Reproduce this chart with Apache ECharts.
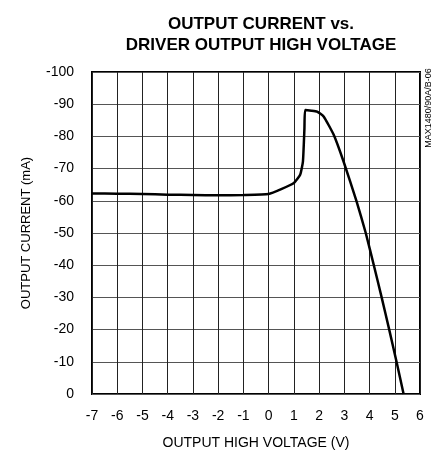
<!DOCTYPE html>
<html>
<head>
<meta charset="utf-8">
<script src="https://cdn.jsdelivr.net/npm/echarts@6/dist/echarts.min.js"></script>
<style>
  html, body { margin: 0; padding: 0; background: #fff; }
  #chart { width: 441px; height: 455px; }
</style>
</head>
<body>
<div id="chart"></div>
<script>
// output high voltage (V) vs output current (mA)
const voltage = [-7, -6, -5, -4, -3, -2, -1, 0, 0.5, 1, 1.25, 1.36, 1.42, 1.45, 1.7, 1.92, 2.18, 2.58, 2.97, 3.48, 3.85, 4.17, 4.48, 4.78, 5.07, 5.35]
const current = [-62.3, -62.2, -62.1, -61.9, -61.8, -61.7, -61.8, -62.1, -63.6, -65.5, -68.1, -72.2, -82.5, -88.2, -88, -87.7, -86.2, -80.5, -72.2, -60, -50, -40, -30, -20, -10, 0]
const xTicks = [-7, 6, 1]
const yTicks = [-100, 0, 10]

const font = '"Liberation Sans Narrow", "Arial Narrow", "Liberation Sans", sans-serif'

const chart = echarts.init(document.getElementById('chart'))
chart.setOption({
  animation: false,
  title: {
    text: 'OUTPUT CURRENT vs.\nDRIVER OUTPUT HIGH VOLTAGE',
    left: 256,
    top: 9,
    textAlign: 'center',
    textStyle: {
      fontFamily: font,
      fontSize: 17,
      fontWeight: 'bold',
      color: '#000',
      lineHeight: 21
    }
  },
  grid: {
    left: 92,
    right: 21,
    top: 72,
    bottom: 60,
    show: true,
    borderColor: '#000',
    borderWidth: 2,
    containLabel: false
  },
  graphic: [{
    type: 'text',
    x: 429,
    y: 108,
    rotation: Math.PI / 2,
    style: {
      text: 'MAX1480/90A/B-06',
      fontFamily: font,
      fontSize: 9,
      fill: '#000',
      align: 'center',
      verticalAlign: 'middle'
    }
  }],
  xAxis: {
    type: 'value',
    min: xTicks[0],
    max: xTicks[1],
    interval: xTicks[2],
    name: 'OUTPUT HIGH VOLTAGE (V)',
    nameLocation: 'middle',
    nameGap: 42,
    nameTextStyle: { fontFamily: font, fontSize: 14, color: '#000' },
    axisLine: { show: false },
    axisTick: { show: false },
    axisLabel: { fontFamily: font, fontSize: 14, color: '#000', margin: 15 },
    splitLine: { lineStyle: { color: '#222', width: 1 } }
  },
  yAxis: {
    type: 'value',
    inverse: true,
    min: yTicks[0],
    max: yTicks[1],
    interval: yTicks[2],
    name: 'OUTPUT CURRENT (mA)',
    nameLocation: 'middle',
    nameGap: 59,
    nameTextStyle: { fontFamily: font, fontSize: 13, color: '#000' },
    axisLine: { show: false },
    axisTick: { show: false },
    axisLabel: { fontFamily: font, fontSize: 14, color: '#000', margin: 18 },
    splitLine: { lineStyle: { color: '#555', width: 1 } }
  },
  series: [{
    type: 'line',
    data: voltage.map((v, i) => [v, current[i]]),
    showSymbol: false,
    smooth: 0.15,
    lineStyle: { color: '#000', width: 2.5 }
  }]
})
</script>
</body>
</html>
